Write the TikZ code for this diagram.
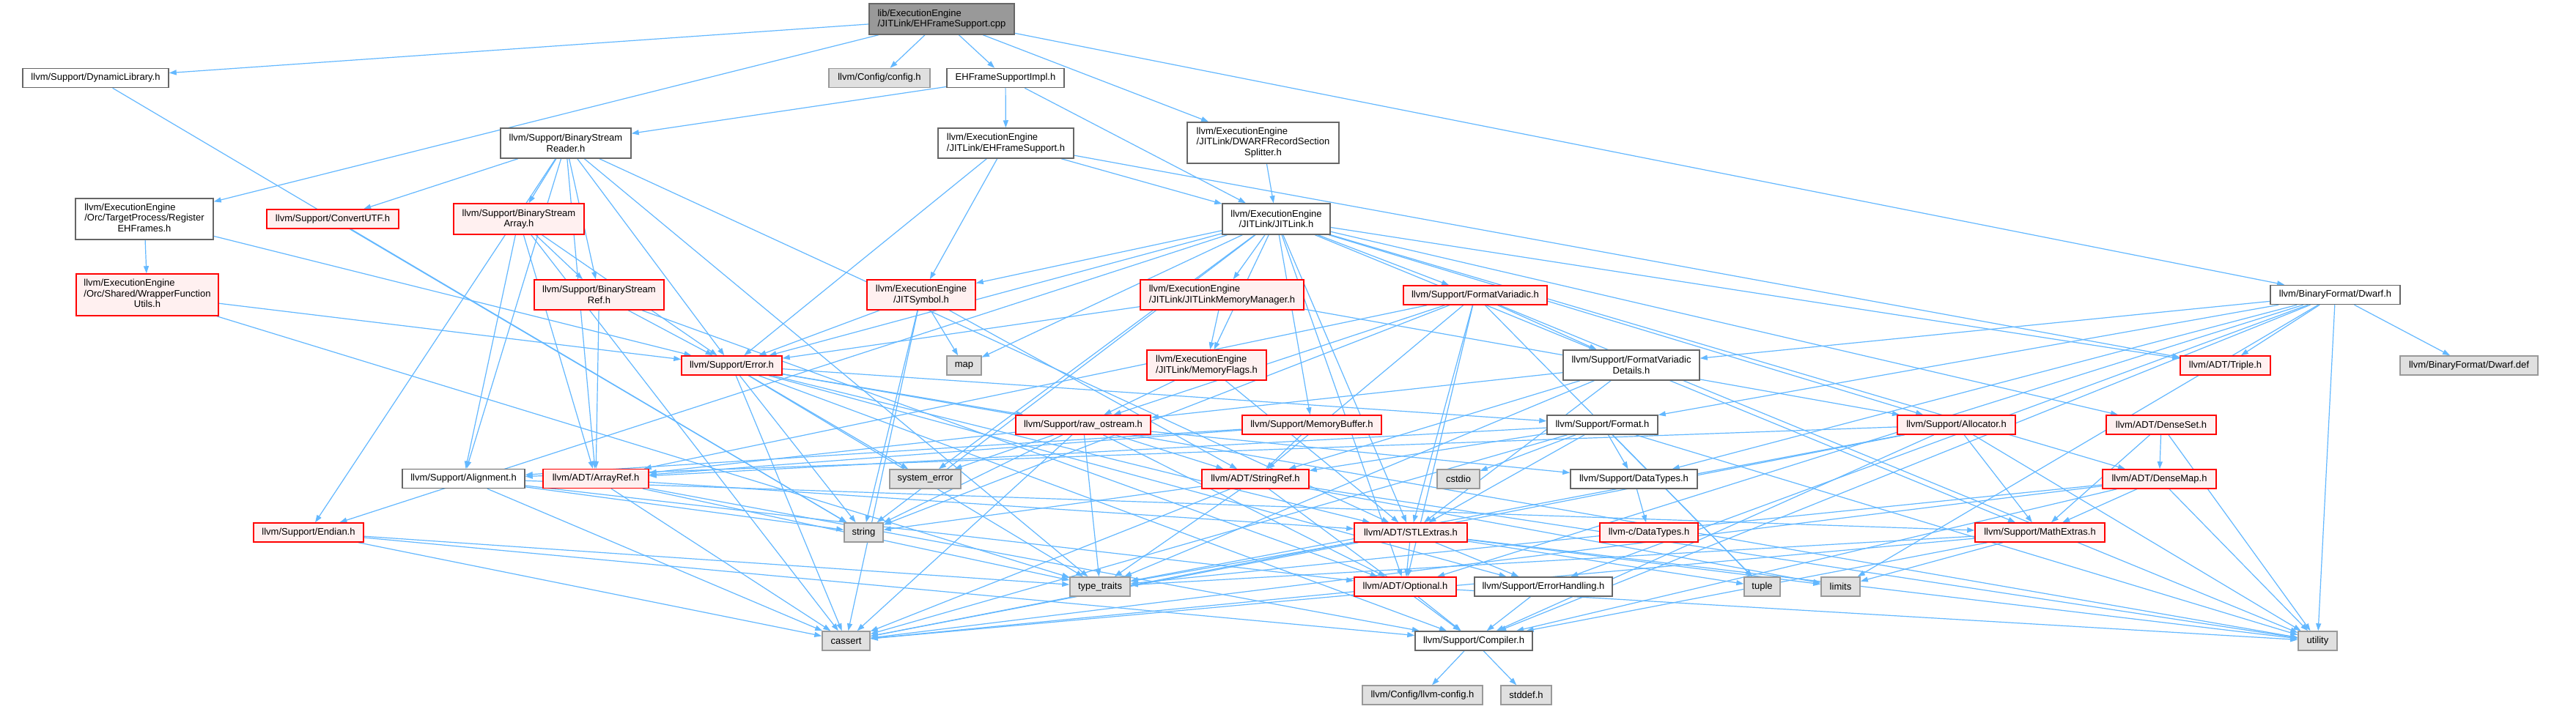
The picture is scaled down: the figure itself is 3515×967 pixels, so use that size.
\documentclass[tikz,border=0pt]{standalone}
\usepackage{fontspec}
\setmainfont{Liberation Sans}
\usetikzlibrary{arrows.meta,backgrounds}
\definecolor{edgeblue}{HTML}{63B8FF}
\definecolor{redfill}{HTML}{FFF0F0}
\definecolor{sysfill}{HTML}{E0E0E0}
\definecolor{sysline}{HTML}{999999}
\definecolor{plainline}{HTML}{666666}
\definecolor{rootfill}{HTML}{999999}
\newcommand{\lastmid}[2]{\begin{tabular}{@{}l@{}}#1\\\multicolumn{1}{@{}c@{}}{#2}\end{tabular}}

\begin{document}
\begin{tikzpicture}[
  x=1pt, y=-1pt,
  font=\fontsize{13}{14.5}\selectfont,
  hdr/.style={draw=plainline, fill=white, line width=1.5pt, inner sep=0pt, minimum height=26pt, align=center},
  trunc/.style={hdr, draw=red, fill=redfill},
  sys/.style={hdr, draw=sysline, fill=sysfill},
  top/.style={hdr, fill=rootfill},
  arr/.style={-{Triangle[length=10pt,width=7pt]}, draw=edgeblue, line width=1.2pt}
]
\useasboundingbox (0,0) rectangle (3515,967);

\node[top, minimum width=198pt, minimum height=42pt, align=left] (cpp) at (1285,26) {lib/ExecutionEngine\\/JITLink/EHFrameSupport.cpp};
\node[hdr, minimum width=199pt] (dynlib) at (130.5,106.5) {llvm/Support/DynamicLibrary.h};
\node[sys, minimum width=138pt] (config) at (1200,106.5) {llvm/Config/config.h};
\node[hdr, minimum width=160pt] (impl) at (1372,106.5) {EHFrameSupportImpl.h};
\node[hdr, minimum width=207pt, minimum height=56pt] (splitter) at (1723.5,195) {\lastmid{llvm/ExecutionEngine\\/JITLink/DWARFRecordSection}{Splitter.h}};
\node[hdr, minimum width=177pt] (dwarf) at (3186.5,402.5) {llvm/BinaryFormat/Dwarf.h};
\node[hdr, minimum width=178pt, minimum height=41pt] (bsreader) at (772,195.5) {llvm/Support/BinaryStream\\Reader.h};
\node[hdr, minimum width=185pt, minimum height=41pt, align=left] (ehfs) at (1372.5,195.5) {llvm/ExecutionEngine\\/JITLink/EHFrameSupport.h};
\node[hdr, minimum width=147pt, minimum height=42pt] (jitlink) at (1741.5,299) {llvm/ExecutionEngine\\/JITLink/JITLink.h};
\node[hdr, minimum width=188pt, minimum height=56pt] (regeh) at (197,299) {\lastmid{llvm/ExecutionEngine\\/Orc/TargetProcess/Register}{EHFrames.h}};
\node[trunc, minimum width=180pt] (convutf) at (454,299) {llvm/Support/ConvertUTF.h};
\node[trunc, minimum width=178pt, minimum height=42pt] (bsarray) at (708,299) {llvm/Support/BinaryStream\\Array.h};
\node[trunc, minimum width=194pt, minimum height=57pt] (wrapper) at (201,402.5) {\lastmid{llvm/ExecutionEngine\\/Orc/Shared/WrapperFunction}{Utils.h}};
\node[trunc, minimum width=177pt, minimum height=41pt] (bsref) at (817.5,402.5) {llvm/Support/BinaryStream\\Ref.h};
\node[trunc, minimum width=148pt, minimum height=41pt] (jitsym) at (1257,402.5) {llvm/ExecutionEngine\\/JITSymbol.h};
\node[trunc, minimum width=223pt, minimum height=41pt, align=left] (memmgr) at (1667.5,402.5) {llvm/ExecutionEngine\\/JITLink/JITLinkMemoryManager.h};
\node[trunc, minimum width=196pt] (fmtvar) at (2013,403) {llvm/Support/FormatVariadic.h};
\node[trunc, minimum width=137pt] (error) at (998.5,499) {llvm/Support/Error.h};
\node[sys, minimum width=47pt] (map) at (1315.5,499) {map};
\node[trunc, minimum width=163pt, minimum height=41pt, align=left] (memflags) at (1646.5,498.5) {llvm/ExecutionEngine\\/JITLink/MemoryFlags.h};
\node[hdr, minimum width=186pt, minimum height=41pt] (fvdetails) at (2226,498.5) {llvm/Support/FormatVariadic\\Details.h};
\node[trunc, minimum width=123pt] (triple) at (3036.5,499) {llvm/ADT/Triple.h};
\node[sys, minimum width=188pt] (dwarfdef) at (3369,499) {llvm/BinaryFormat/Dwarf.def};
\node[trunc, minimum width=184pt] (rawos) at (1478,580) {llvm/Support/raw\_ostream.h};
\node[trunc, minimum width=190pt] (membuf) at (1790,580) {llvm/Support/MemoryBuffer.h};
\node[hdr, minimum width=151pt] (format) at (2186.5,580) {llvm/Support/Format.h};
\node[trunc, minimum width=161pt] (alloc) at (2669.5,580) {llvm/Support/Allocator.h};
\node[trunc, minimum width=150pt] (denseset) at (2949,580) {llvm/ADT/DenseSet.h};
\node[hdr, minimum width=167pt] (align) at (632.5,653.5) {llvm/Support/Alignment.h};
\node[trunc, minimum width=144pt] (arrayref) at (813,653.5) {llvm/ADT/ArrayRef.h};
\node[sys, minimum width=97pt] (syserr) at (1262.5,654) {system\_error};
\node[trunc, minimum width=146pt] (stringref) at (1713,654) {llvm/ADT/StringRef.h};
\node[sys, minimum width=58pt] (cstdio) at (1990,654) {cstdio};
\node[hdr, minimum width=173pt] (datatypes) at (2229.5,654) {llvm/Support/DataTypes.h};
\node[trunc, minimum width=155pt] (densemap) at (2946.5,654) {llvm/ADT/DenseMap.h};
\node[trunc, minimum width=150pt] (endian) at (421,727) {llvm/Support/Endian.h};
\node[sys, minimum width=53pt] (string) at (1178.5,727) {string};
\node[trunc, minimum width=154pt] (stlextras) at (1925,727) {llvm/ADT/STLExtras.h};
\node[trunc, minimum width=134pt] (cdatatypes) at (2250,727) {llvm-c/DataTypes.h};
\node[trunc, minimum width=177pt] (mathext) at (2783.5,727) {llvm/Support/MathExtras.h};
\node[sys, minimum width=82pt] (typetraits) at (1501,801) {type\_traits};
\node[trunc, minimum width=139pt] (optional) at (1917.5,801) {llvm/ADT/Optional.h};
\node[hdr, minimum width=188pt] (errhand) at (2106,801) {llvm/Support/ErrorHandling.h};
\node[sys, minimum width=49pt] (tuple) at (2404.5,801) {tuple};
\node[sys, minimum width=53pt] (limits) at (2511.5,801) {limits};
\node[sys, minimum width=65pt] (cassert) at (1154.5,875) {cassert};
\node[hdr, minimum width=160pt] (compiler) at (2011,875) {llvm/Support/Compiler.h};
\node[sys, minimum width=53pt] (utility) at (3162.5,875) {utility};
\node[sys, minimum width=164pt] (llvmconfig) at (1941,949) {llvm/Config/llvm-config.h};
\node[sys, minimum width=69pt] (stddef) at (2082.5,949) {stddef.h};

\begin{scope}[on background layer]
\fill[white] (0,0) rectangle (3515,967);
\foreach \t in {dynlib,regeh,config,impl,splitter,dwarf} \draw[arr] (cpp) -- (\t);
\foreach \t in {bsreader,ehfs,jitlink} \draw[arr] (impl) -- (\t);
\draw[arr] (splitter) -- (jitlink);
\foreach \t in {error,jitsym,jitlink,triple} \draw[arr] (ehfs) -- (\t);
\draw[arr] (dynlib) -- (string);
\foreach \t in {wrapper,error} \draw[arr] (regeh) -- (\t);
\foreach \t in {error,typetraits} \draw[arr] (wrapper) -- (\t);
\foreach \t in {arrayref,stlextras,align,bsarray,bsref,convutf,endian,error,typetraits} \draw[arr] (bsreader) -- (\t);
\draw[arr] (convutf) -- (string);
\foreach \t in {arrayref,align,bsref,error,cassert} \draw[arr] (bsarray) -- (\t);
\foreach \t in {arrayref,optional,error} \draw[arr] (bsref) -- (\t);
\foreach \t in {jitsym,memmgr,memflags,error,endian,map,string,syserr,fmtvar,membuf,alloc,mathext,densemap,denseset,triple,optional,stlextras} \draw[arr] (jitlink) -- (\t);
\foreach \t in {error,map,string,cassert,stringref} \draw[arr] (jitsym) -- (\t);
\foreach \t in {memflags,error,alloc} \draw[arr] (memmgr) -- (\t);
\foreach \t in {rawos,stlextras} \draw[arr] (memflags) -- (\t);
\foreach \t in {fvdetails,rawos,arrayref,optional,stlextras,stringref,string,tuple,utility} \draw[arr] (fmtvar) -- (\t);
\foreach \t in {rawos,format,stlextras,errhand,compiler,cassert,string,syserr,typetraits,utility} \draw[arr] (error) -- (\t);
\foreach \t in {stlextras,stringref,rawos,typetraits} \draw[arr] (fvdetails) -- (\t);
\foreach \t in {arrayref,stringref,datatypes,optional,cassert,string,syserr,typetraits} \draw[arr] (rawos) -- (\t);
\foreach \t in {arrayref,stringref,align} \draw[arr] (membuf) -- (\t);
\foreach \t in {arrayref,stlextras,stringref,datatypes,cassert,cstdio,tuple,utility} \draw[arr] (format) -- (\t);
\foreach \t in {align,mathext,compiler,cassert,typetraits,utility} \draw[arr] (alloc) -- (\t);
\foreach \t in {densemap,mathext,utility} \draw[arr] (denseset) -- (\t);
\foreach \t in {mathext,compiler,cassert,typetraits,utility} \draw[arr] (densemap) -- (\t);
\foreach \t in {fvdetails,triple,dwarfdef,format,datatypes,errhand,optional,compiler,limits,utility} \draw[arr] (dwarf) -- (\t);
\foreach \t in {mathext,optional,cassert,string} \draw[arr] (align) -- (\t);
\foreach \t in {stlextras,compiler,cassert,typetraits} \draw[arr] (arrayref) -- (\t);
\foreach \t in {compiler,cassert,limits,string,typetraits,utility} \draw[arr] (stringref) -- (\t);
\draw[arr] (datatypes) -- (cdatatypes);
\foreach \t in {compiler,cassert,typetraits} \draw[arr] (endian) -- (\t);
\foreach \t in {optional,errhand,cassert,limits,tuple,typetraits,utility} \draw[arr] (stlextras) -- (\t);
\foreach \t in {compiler,cassert,limits,typetraits} \draw[arr] (mathext) -- (\t);
\foreach \t in {compiler,cassert,utility} \draw[arr] (optional) -- (\t);
\draw[arr] (errhand) -- (compiler);
\foreach \t in {llvmconfig,stddef} \draw[arr] (compiler) -- (\t);
\end{scope}
\end{tikzpicture}
\end{document}
